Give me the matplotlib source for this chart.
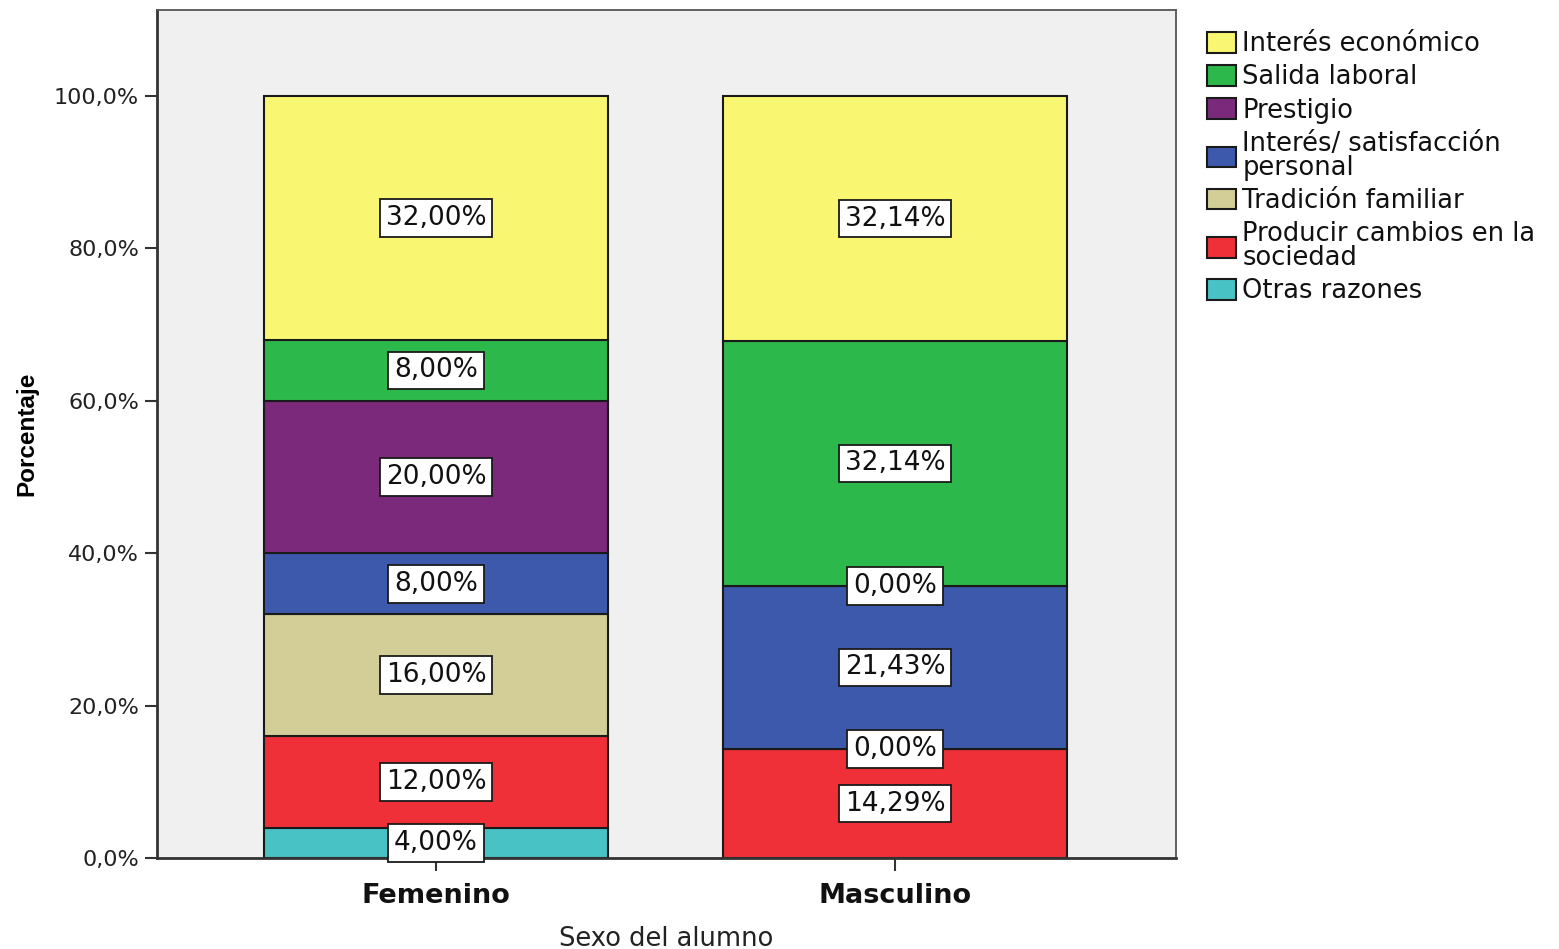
import numpy as np
import matplotlib.pyplot as plt
from matplotlib.patches import Patch

plt.rcParams['font.family'] = ['DejaVu Sans']

# data (percent within each sex)
groups = ["Femenino", "Masculino"]
reasons = ["Otras razones", "Producir cambios en la\nsociedad", "Tradición familiar",
           "Interés/ satisfacción\npersonal", "Prestigio", "Salida laboral", "Interés económico"]
femenino = [4.00, 12.00, 16.00, 8.00, 20.00, 8.00, 32.00]
masculino = [np.nan, 14.29, 0.00, 21.43, 0.00, 32.14, 32.14]
colors = ["#48C2C5", "#EF3038", "#D3CE98", "#3D59AB", "#7B2A7B", "#2DB84B", "#F9F771"]
yticks = [0, 20, 40, 60, 80, 100]

values = np.array([femenino, masculino]).T  # rows = reasons, cols = groups

fig = plt.figure(figsize=(15.59, 9.49), dpi=100)
ax = fig.add_axes([0.1007, 0.0959, 0.6536, 0.8936])
ax.set_facecolor("#F0F0F0")

x = np.arange(len(groups))
bottom = np.zeros(len(groups))
for i in range(len(reasons)):
    vals = np.nan_to_num(values[i])
    ax.bar(x, vals, 0.75, bottom=bottom, color=colors[i], edgecolor="#1a1a1a",
           linewidth=1.5, zorder=2)
    for j in range(len(groups)):
        if not np.isnan(values[i][j]):
            txt = ("%.2f%%" % values[i][j]).replace(".", ",")
            ax.text(x[j], bottom[j] + vals[j] / 2, txt, ha="center", va="center",
                    fontsize=19, color="#111111", zorder=4,
                    bbox=dict(boxstyle="square,pad=0.22", fc="white", ec="#1a1a1a", lw=1.3))
    bottom = bottom + vals

ax.set_xlim(-0.608, 1.612)
ax.set_ylim(0, 111.3)
ax.set_yticks(yticks)
ax.set_yticklabels([("%.1f%%" % v).replace(".", ",") for v in yticks], fontsize=16, color="#222222")
ax.set_xticks(x)
ax.set_xticklabels(groups, fontsize=19.5, fontweight="bold", color="#111111")
ax.tick_params(axis="both", length=9, width=1.5, color="#333333")
ax.tick_params(axis="x", pad=9)
ax.tick_params(axis="y", pad=4)
for s in ax.spines.values():
    s.set_color("#555555")
    s.set_linewidth(1.3)
ax.spines["left"].set_linewidth(2)
ax.spines["left"].set_color("#333333")
ax.spines["bottom"].set_linewidth(2)
ax.spines["bottom"].set_color("#333333")

ax.set_ylabel("Porcentaje", fontsize=17.5, fontweight="bold",
              family=["Liberation Sans Narrow", "Liberation Sans"], labelpad=11)
ax.set_xlabel("Sexo del alumno", fontsize=18.5, labelpad=12, color="#222222")

# legend, top item first
handles = [Patch(facecolor=colors[i], edgecolor="#1a1a1a", linewidth=1.5) for i in range(len(reasons))][::-1]
leg = ax.legend(handles, reasons[::-1], loc="upper left", bbox_to_anchor=(1.0304, 0.975),
                frameon=False, fontsize=18.5, handlelength=1.12, handleheight=0.86,
                handletextpad=0.25, labelspacing=0.28, borderaxespad=0, borderpad=0)
for t in leg.get_texts():
    t.set_linespacing(0.9)
    t.set_color("#111111")

fig.savefig("out.png", dpi=100)
